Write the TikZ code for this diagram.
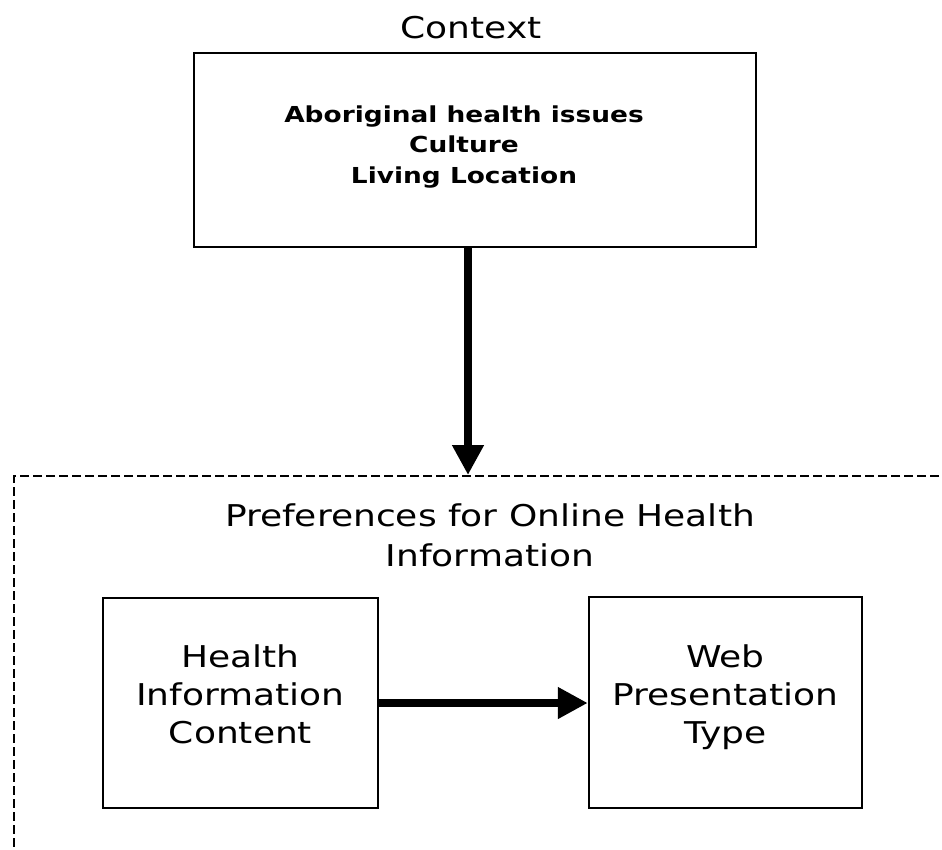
\documentclass[tikz,border=0pt]{standalone}
\usepackage{fontspec}
\setmainfont{DejaVu Sans}[FakeStretch=1.2]
\usetikzlibrary{arrows.meta}
\begin{document}
\begin{tikzpicture}[x=1pt,y=-1pt,
  box/.style={draw, line width=2.5pt, inner sep=0pt},
  lbl/.style={font=\fontsize{30}{38}\selectfont, align=center, inner sep=0pt},
  tlbl/.style={font=\fontsize{30}{40}\selectfont, align=center, inner sep=0pt},
  blbl/.style={font=\fontsize{22}{30.5}\selectfont\bfseries, align=center, inner sep=0pt},
  bigarrow/.style={line width=7.5pt, -{Triangle[width=30pt,length=30pt]}},
  dashbox/.style={draw, line width=2.3pt, dash pattern=on 9pt off 4pt, inner sep=0pt}]
\useasboundingbox (0,0) rectangle (942,849);
\clip (0,0) rectangle (942,849);
% context box
\node[box, minimum width=562pt, minimum height=194pt] (ctx) at (475,150) {};
\node[lbl, anchor=base] (ctxt) at (471,38) {Context};
\node[blbl] (ctxitems) at (464,146.75) {Aboriginal health issues\\Culture\\Living Location};
% preferences region
\node[dashbox, anchor=north west, minimum width=1000pt, minimum height=420pt] (pref) at (13,475) {};
\node[tlbl] (preft) at (490,535.6) {Preferences for Online Health\\Information};
\node[box, minimum width=275pt, minimum height=210pt] (hic) at (240.5,703) {};
\node[lbl] (hict) at (240.5,694) {Health\\Information\\Content};
\node[box, minimum width=273pt, minimum height=211pt] (wpt) at (725.5,702.5) {};
\node[lbl] (wptt) at (725.5,697.6) {Web\\Presentation\\Type};
% connectors
\coordinate (tip) at (468,475);
\draw[bigarrow] (ctx.south -| tip) -- (tip);
\draw[bigarrow] (hic.east) -- (hic.east -| wpt.west);
\end{tikzpicture}
\end{document}
